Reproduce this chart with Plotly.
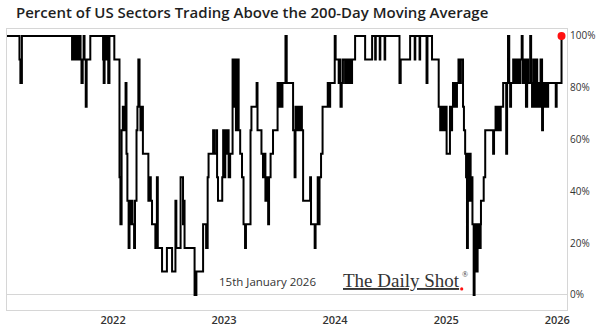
import plotly.graph_objects as go

# Number of S&P 500 sectors tracked
SECTOR_COUNT = 11

# Dates on which the count of sectors above their 200-day moving average changed
dates = [
    "2021-01-17", "2021-02-27", "2021-03-02", "2021-03-07",
    "2021-08-19", "2021-08-24", "2021-08-29", "2021-09-01", "2021-09-06", "2021-09-11",
    "2021-09-16", "2021-09-19", "2021-09-23", "2021-09-26", "2021-09-29", "2021-10-03",
    "2021-10-06", "2021-10-18", "2021-11-29", "2021-12-01", "2021-12-04", "2021-12-09",
    "2021-12-12", "2021-12-16", "2021-12-20",
    "2022-01-05", "2022-01-22", "2022-01-25", "2022-01-29", "2022-02-02", "2022-02-06",
    "2022-02-11", "2022-02-14", "2022-02-17", "2022-02-21", "2022-02-24", "2022-02-27",
    "2022-03-02", "2022-03-06", "2022-03-11", "2022-03-14", "2022-03-19", "2022-03-22",
    "2022-03-25", "2022-03-29", "2022-04-01", "2022-04-06", "2022-04-09", "2022-04-27",
    "2022-05-02", "2022-05-05", "2022-05-09", "2022-05-20", "2022-05-25", "2022-05-28",
    "2022-06-11", "2022-06-27", "2022-07-14", "2022-07-25", "2022-07-28", "2022-08-11",
    "2022-08-19", "2022-08-21", "2022-08-24", "2022-09-26", "2022-10-02", "2022-10-24",
    "2022-11-03", "2022-11-08", "2022-11-11", "2022-11-26", "2022-11-29", "2022-12-06",
    "2022-12-09", "2022-12-12", "2022-12-26", "2022-12-29",
    "2023-01-02", "2023-01-05", "2023-01-09", "2023-01-13", "2023-01-16", "2023-01-21",
    "2023-01-29", "2023-02-03", "2023-02-06", "2023-02-09", "2023-02-13", "2023-02-18",
    "2023-02-23", "2023-03-01", "2023-03-06", "2023-03-11", "2023-03-14", "2023-03-29",
    "2023-04-01", "2023-04-18", "2023-04-21", "2023-05-04", "2023-05-09", "2023-05-12",
    "2023-05-17", "2023-05-22", "2023-05-26", "2023-05-29", "2023-06-03", "2023-06-11",
    "2023-06-26", "2023-07-01", "2023-07-04", "2023-07-09", "2023-07-12", "2023-07-22",
    "2023-07-26", "2023-08-16", "2023-08-21", "2023-08-24", "2023-08-29", "2023-09-01",
    "2023-09-06", "2023-09-10", "2023-09-14", "2023-09-18", "2023-10-11", "2023-10-14",
    "2023-10-26", "2023-10-29", "2023-11-05", "2023-11-08", "2023-11-11", "2023-11-16",
    "2023-11-21", "2023-12-08", "2023-12-13", "2023-12-16", "2023-12-31",
    "2024-01-03", "2024-01-13", "2024-01-16", "2024-01-19", "2024-01-23", "2024-01-27",
    "2024-02-03", "2024-02-06", "2024-02-12", "2024-02-16", "2024-02-22", "2024-02-26",
    "2024-03-07", "2024-04-09", "2024-05-02", "2024-05-12", "2024-05-14", "2024-05-27",
    "2024-05-29", "2024-06-12", "2024-06-14", "2024-07-31", "2024-08-04", "2024-09-04",
    "2024-09-19", "2024-09-21", "2024-10-05", "2024-10-07", "2024-10-28", "2024-10-31",
    "2024-11-15", "2024-12-07", "2024-12-12", "2024-12-15", "2024-12-18", "2024-12-21",
    "2024-12-25", "2024-12-28",
    "2025-01-02", "2025-01-13", "2025-01-17", "2025-01-20", "2025-01-23", "2025-01-27",
    "2025-01-30", "2025-02-02", "2025-02-05", "2025-02-10", "2025-02-15", "2025-02-18",
    "2025-02-25", "2025-02-28", "2025-03-04", "2025-03-07", "2025-03-10", "2025-03-13",
    "2025-03-15", "2025-03-19", "2025-03-22", "2025-03-25", "2025-03-28", "2025-04-01",
    "2025-04-04", "2025-04-07", "2025-04-11", "2025-04-14", "2025-04-17", "2025-04-20",
    "2025-04-24", "2025-04-25", "2025-05-04", "2025-05-09", "2025-06-04", "2025-06-07",
    "2025-06-12", "2025-06-17", "2025-06-20", "2025-06-25", "2025-06-29", "2025-07-07",
    "2025-07-17", "2025-07-20", "2025-07-23", "2025-07-27", "2025-07-30", "2025-08-02",
    "2025-08-09", "2025-08-12", "2025-08-16", "2025-08-19", "2025-08-22", "2025-08-28",
    "2025-09-01", "2025-09-06", "2025-09-09", "2025-09-14", "2025-09-20", "2025-09-24",
    "2025-09-27", "2025-10-04", "2025-10-07", "2025-10-10", "2025-10-14", "2025-10-17",
    "2025-10-22", "2025-10-27", "2025-10-30", "2025-11-02", "2025-11-07", "2025-11-12",
    "2025-11-15", "2025-11-20", "2025-11-24", "2025-11-29", "2025-12-02", "2025-12-27",
    "2025-12-30", "2026-01-15",
]

# Sectors above their 200-day moving average from each date onward
sectors_above = [
    11, 10, 9, 11,
    10, 11, 10, 11, 10, 11,
    10, 9, 10, 11, 10, 8,
    10, 11, 10, 9, 11, 10,
    11, 9, 11,
    10, 5, 3, 7, 8, 7,
    9, 6, 4, 2, 4, 3,
    4, 3, 2, 4, 7, 8,
    10, 8, 7, 8, 6, 4,
    5, 4, 3, 2, 5, 2,
    1, 2, 1, 4, 2, 5,
    3, 4, 2, 0, 1, 3,
    2, 5, 6, 7, 6, 7,
    5, 4, 5, 7,
    5, 7, 6, 7, 5, 6,
    10, 8, 10, 7, 10, 7,
    6, 5, 3, 2, 3, 7,
    8, 9, 7, 6, 5, 6,
    4, 5, 3, 5, 6, 7,
    9, 8, 9, 8, 9, 11,
    9, 7, 5, 8, 7, 8,
    7, 8, 7, 4, 5, 3,
    2, 3, 5, 3, 5, 6,
    8, 9, 8, 9, 11,
    10, 9, 10, 8, 9, 10,
    9, 10, 9, 10, 9, 10,
    11, 10, 11, 10, 11, 10,
    11, 10, 11, 9, 10, 11,
    10, 11, 10, 11, 9, 11,
    10, 8, 7, 8, 7, 8,
    7, 8,
    6, 8, 7, 8, 9, 8,
    9, 8, 9, 10, 9, 10,
    8, 7, 6, 5, 2, 6,
    4, 6, 4, 5, 3, 0,
    1, 3, 1, 2, 3, 2,
    3, 4, 5, 7, 6, 7,
    8, 7, 8, 7, 8, 9,
    6, 9, 11, 9, 8, 9,
    10, 9, 10, 9, 10, 9,
    10, 11, 9, 10, 8, 10,
    9, 11, 9, 8, 10, 8,
    10, 8, 9, 8, 10, 7,
    9, 8, 9, 8, 9, 8,
    9, 11,
]

share_pct = [n / SECTOR_COUNT * 100 for n in sectors_above]

year_ticks = ["2022-01-01", "2023-01-01", "2024-01-01", "2025-01-01", "2026-01-01"]
year_labels = ["2022", "2023", "2024", "2025", "2026"]
pct_ticks = [0, 20, 40, 60, 80, 100]
pct_labels = ["0%", "20%", "40%", "60%", "80%", "100%"]

frame_grey = "#d6d6d6"
text_grey = "#333333"

fig = go.Figure()

fig.add_trace(go.Scatter(
    x=dates, y=share_pct, mode="lines",
    line=dict(color="black", width=2, shape="hv"),
    hoverinfo="skip", showlegend=False,
))

# Latest reading highlighted
fig.add_trace(go.Scatter(
    x=[dates[-1]], y=[share_pct[-1]], mode="markers",
    marker=dict(color="#ff1010", size=8),
    hoverinfo="skip", showlegend=False,
))

fig.update_layout(
    width=604, height=331,
    margin=dict(l=7, r=37, t=29, b=21),
    paper_bgcolor="white", plot_bgcolor="white",
    title=dict(
        text="Percent of US Sectors Trading Above the 200-Day Moving Average",
        x=16 / 604, xanchor="left", xref="container",
        y=1 - 13 / 331, yanchor="middle", yref="container",
        font=dict(family="Open Sans", size=15, color="#1f1f1f", weight=600),
    ),
    xaxis=dict(
        type="date", range=["2021-01-17", "2026-02-02"],
        tickvals=year_ticks, ticktext=year_labels,
        showgrid=False, zeroline=False, ticks="",
        showline=True, mirror=True, linecolor=frame_grey, linewidth=1,
        automargin=False,
        tickfont=dict(family="Open Sans", size=11, color=text_grey, weight=600),
    ),
    yaxis=dict(
        side="right", range=[-5.8, 102.7],
        tickvals=pct_ticks, ticktext=pct_labels,
        showgrid=False, ticks="",
        zeroline=True, zerolinecolor=frame_grey, zerolinewidth=1,
        showline=True, mirror=True, linecolor=frame_grey, linewidth=1,
        automargin=False,
        tickfont=dict(family="Open Sans", size=10, color=text_grey),
    ),
    annotations=[
        dict(
            text="15th January 2026", xref="paper", yref="paper",
            x=0.466, y=0.10, xanchor="center", yanchor="middle", showarrow=False,
            font=dict(family="Open Sans", size=11.5, color=text_grey),
        ),
        dict(
            text="<u>The Daily Shot</u>",
            xref="paper", yref="paper",
            x=0.705, y=0.105, xanchor="center", yanchor="middle", showarrow=False,
            font=dict(family="Liberation Serif", size=19, color=text_grey),
        ),
        dict(
            text="®", xref="paper", yref="paper",
            x=0.809, y=0.128, xanchor="left", yanchor="middle", showarrow=False,
            font=dict(family="Liberation Serif", size=8, color=text_grey),
        ),
    ],
    shapes=[
        dict(
            type="circle", xref="paper", yref="paper",
            xsizemode="pixel", ysizemode="pixel",
            xanchor=0.812, yanchor=0.075,
            x0=-1.6, x1=1.6, y0=-1.6, y1=1.6,
            fillcolor="#ff1010", line=dict(width=0),
        ),
    ],
)

fig.write_html("out.html")
